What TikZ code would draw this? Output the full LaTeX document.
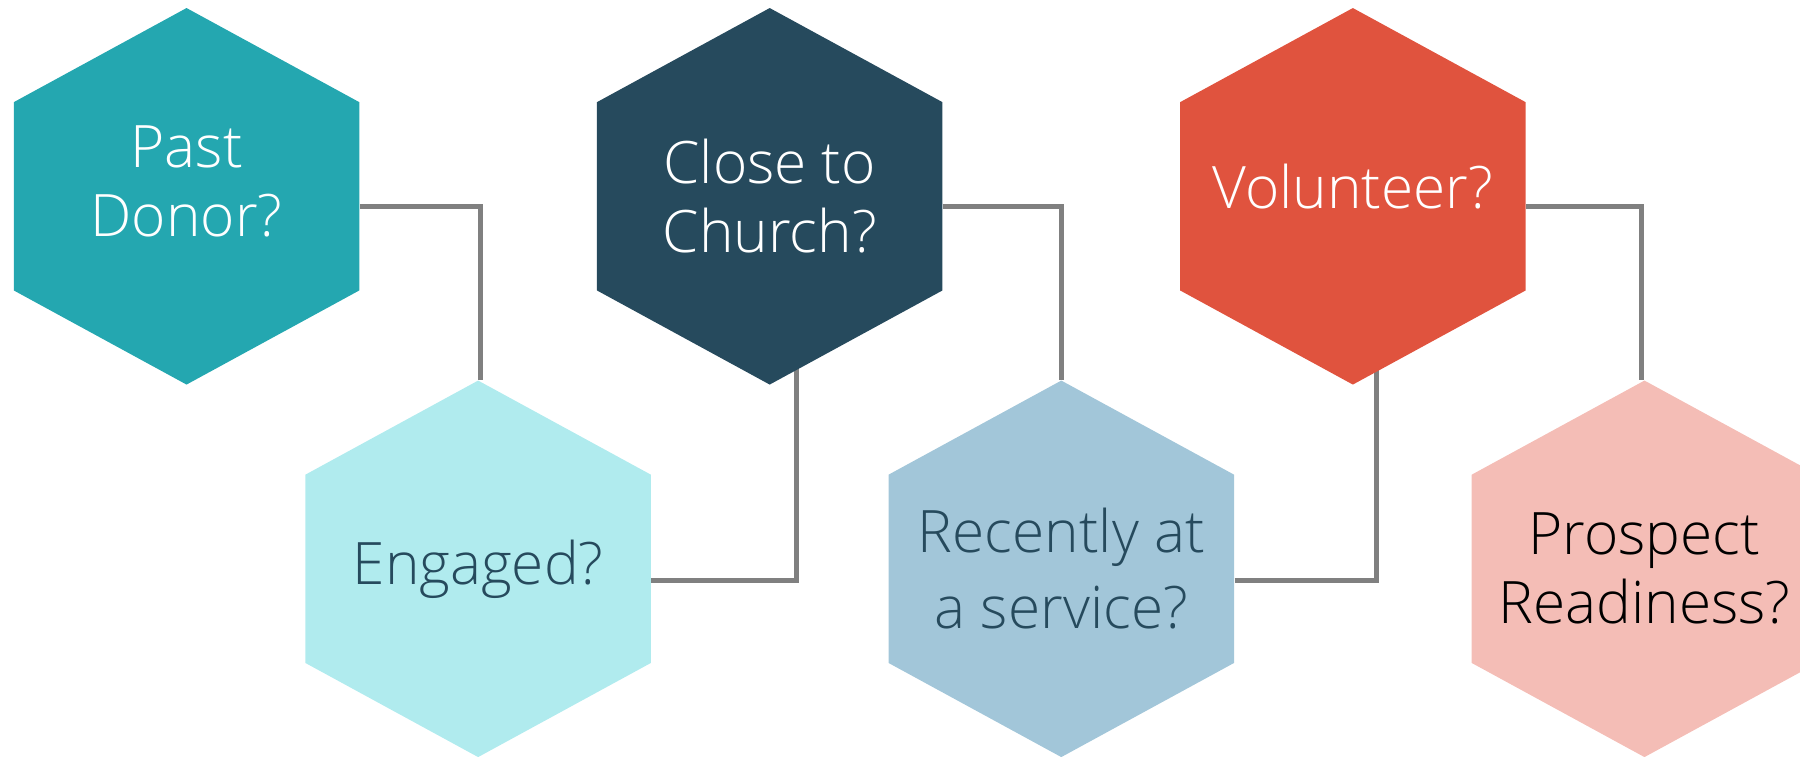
\documentclass[tikz,border=0pt]{standalone}
\usepackage{fontspec}
\newfontfamily\hexfont{Open Sans}[UprightFont={* Light}]
\usetikzlibrary{backgrounds}

\definecolor{donorteal}{RGB}{36,167,176}
\definecolor{churchnavy}{RGB}{38,74,93}
\definecolor{volunteerred}{RGB}{224,83,62}
\definecolor{engagedcyan}{RGB}{176,235,238}
\definecolor{serviceblue}{RGB}{162,198,217}
\definecolor{prospectpink}{RGB}{244,189,182}
\definecolor{linkgray}{RGB}{128,128,128}

\tikzset{
    hexa/.style={rectangle, minimum width=150.5pt, minimum height=164pt,
        inner sep=0pt, align=center,
        font=\hexfont\fontsize{25.5}{30}\selectfont,
        path picture={\fill[#1] (path picture bounding box.north)
            -- ([yshift=-41pt]path picture bounding box.north east)
            -- ([yshift=41pt]path picture bounding box.south east)
            -- (path picture bounding box.south)
            -- ([yshift=41pt]path picture bounding box.south west)
            -- ([yshift=-41pt]path picture bounding box.north west)
            -- cycle;}},
    link/.style={draw=linkgray, line width=2.2pt}
}

\begin{document}
\begin{tikzpicture}[x=0.5pt, y=-0.5pt]
    \useasboundingbox (0, 0) rectangle (1568, 659);
    \clip (0, 0) rectangle (1568, 659);

    %% top row
    \node[hexa=donorteal, text=white, text depth=13pt] (donor) at (162.5, 171) {Past\\Donor?};
    \node[hexa=churchnavy, text=white] (church) at (670.5, 171) {Close to\\Church?};
    \node[hexa=volunteerred, text=white, text depth=9pt] (volunteer) at (1178.5, 171) {Volunteer?};

    %% bottom row
    \node[hexa=engagedcyan, text=churchnavy] (engaged) at (416.5, 495.5) {Engaged?};
    \node[hexa=serviceblue, text=churchnavy] (service) at (924.5, 495.5) {Recently at\\[3pt]a service?};
    \node[hexa=prospectpink, text=black] (prospect) at (1432.5, 495.5) {Prospect\\Readiness?};

    \begin{pgfonlayer}{background}
    \draw[link] ([yshift=-4.5pt]donor.east) -| ([xshift=1pt]engaged.north);
    \draw[link] ([yshift=-5pt]engaged.east) -| ([xshift=11.75pt]church.center);
    \draw[link] ([yshift=-4.5pt]church.east) -| (service.north);
    \draw[link] ([yshift=-5pt]service.east) -| ([xshift=10.25pt]volunteer.center);
    \draw[link] ([yshift=-4.5pt]volunteer.east) -| ([xshift=-1.5pt]prospect.north);
    \end{pgfonlayer}
\end{tikzpicture}
\end{document}
